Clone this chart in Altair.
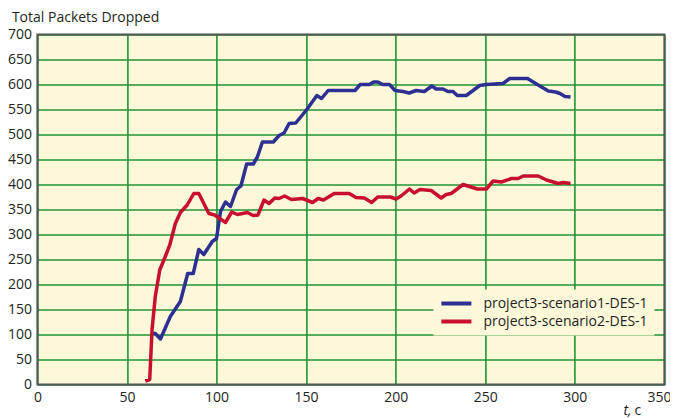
import altair as alt
import pandas as pd

# Series 1: project3-scenario1-DES-1 (time s, packets)
s1_t = [63.4, 65.8, 68.7, 74.2, 79.8, 83.9, 87.0, 90.1, 92.9, 97.6, 100.0, 102.2, 105.0, 107.8,
        111.2, 113.6, 116.8, 120.5, 122.8, 125.6, 131.7, 134.9, 137.7, 140.5, 144.2, 147.0,
        150.8, 156.0, 158.6, 162.3, 177.3, 180.2, 185.3, 187.7, 190.0, 192.8, 196.5, 199.7,
        204.0, 207.6, 211.4, 216.0, 220.2, 222.6, 226.4, 229.2, 232.0, 234.4, 239.4, 243.2,
        246.9, 250.6, 259.9, 263.7, 273.6, 277.7, 281.4, 285.2, 289.3, 291.7, 294.5, 297.6]
s1_v = [103, 102, 91, 136, 166, 222, 222, 270, 260, 286, 292, 346, 365, 356,
        390, 397, 441, 441, 455, 485, 485, 498, 503, 522, 523, 535,
        552, 578, 572, 588, 588, 600, 600, 605, 605, 600, 600, 588,
        586, 583, 588, 586, 597, 591, 591, 586, 586, 578, 578, 588,
        598, 600, 602, 612, 612, 603, 595, 587, 585, 582, 576, 575]

# Series 2: project3-scenario2-DES-1
s2_t = [60.2, 62.7, 64.0, 65.8, 68.3, 71.4, 73.9, 77.0, 79.8, 83.6, 87.3, 90.1, 95.7, 99.0,
        105.0, 108.5, 111.6, 117.2, 120.5, 123.1, 126.5, 129.3, 132.5, 134.9, 138.0, 141.8,
        148.0, 153.6, 156.7, 159.7, 165.7, 174.1, 177.8, 182.5, 186.6, 190.0, 197.0, 200.2,
        203.0, 207.7, 210.3, 213.5, 219.8, 225.4, 228.2, 231.0, 237.6, 245.6, 250.6, 254.4,
        259.0, 264.6, 268.4, 271.2, 279.6, 284.2, 290.8, 293.6, 297.6]
s2_v = [7, 10, 110, 176, 229, 256, 279, 322, 344, 359, 382, 382, 342, 339,
        324, 345, 340, 344, 338, 339, 369, 362, 373, 372, 377, 370,
        372, 364, 372, 369, 382, 382, 374, 373, 364, 375, 375, 371,
        377, 391, 383, 390, 388, 373, 380, 382, 400, 391, 391, 407,
        405, 412, 412, 417, 417, 409, 402, 404, 402]

series_names = ["project3-scenario1-DES-1", "project3-scenario2-DES-1"]
series_colors = ["#2d3092", "#c8102e"]
x_ticks = [0, 50, 100, 150, 200, 250, 300, 350]
y_ticks = [0, 50, 100, 150, 200, 250, 300, 350, 400, 450, 500, 550, 600, 650, 700]
y_title = "Total Packets Dropped"

df = pd.concat([
    pd.DataFrame({"t": s1_t, "v": s1_v, "s": series_names[0]}),
    pd.DataFrame({"t": s2_t, "v": s2_v, "s": series_names[1]}),
])

FONT = "Open Sans"
W, H = 627, 350

x_scale = alt.Scale(domain=[0, 350], nice=False, zero=False)
y_scale = alt.Scale(domain=[0, 700], nice=False)

x_axis = alt.Axis(values=x_ticks, title=None, labelPadding=6, labelOverlap=False,
                  tickCount=30, labelFlush=False,
                  labelOffset=alt.ExprRef("datum.value >= 350 ? -5.5 : 0"))
y_axis = alt.Axis(values=y_ticks, title=y_title, titleAngle=0,
                  titleAlign="left", titleBaseline="alphabetic",
                  titleX=-26, titleY=-13, labelPadding=6,
                  labelOverlap=False, tickCount=30, labelFlush=False)

lines = alt.Chart(df).mark_line(strokeWidth=3.5, strokeJoin="round").encode(
    x=alt.X("t:Q", scale=x_scale, axis=x_axis),
    y=alt.Y("v:Q", scale=y_scale, axis=y_axis),
    color=alt.Color("s:N",
                    scale=alt.Scale(domain=series_names, range=series_colors),
                    legend=alt.Legend(title=None, orient="none",
                                      legendX=396, legendY=255,
                                      symbolType="stroke", symbolSize=900,
                                      symbolStrokeWidth=4, labelOffset=10,
                                      clipHeight=16, rowPadding=2, padding=6,
                                      labelLimit=400,
                                      fillColor="#fdf8da")),
)

frame = alt.Chart(pd.DataFrame({"a": [0]})).mark_rect(
    fill=None, stroke="#555555", strokeWidth=2
).encode(
    x=alt.X(datum=0, scale=x_scale, axis=x_axis), x2=alt.datum(350),
    y=alt.Y(datum=0, scale=y_scale, axis=y_axis), y2=alt.datum(700),
)

t_label = alt.Chart(pd.DataFrame({"a": [0]})).mark_text(
    text="t,", font=FONT, fontSize=14, fontStyle="italic", align="left",
    baseline="alphabetic", color="#231f20"
).encode(x=alt.value(586), y=alt.value(380.5))

c_label = alt.Chart(pd.DataFrame({"a": [0]})).mark_text(
    text="c", font=FONT, fontSize=14, align="left",
    baseline="alphabetic", color="#231f20"
).encode(x=alt.value(597), y=alt.value(380.5))

chart = alt.layer(lines, frame, t_label, c_label).properties(
    width=W, height=H,
    autosize=alt.AutoSizeParams(type="none"),
    padding={"left": 29.4, "top": 26.5, "right": 5.6, "bottom": 33},
).configure_view(
    fill="#fdf8da", stroke=None
).configure_axis(
    grid=True, gridColor="#1f9433", gridWidth=1.6, gridOpacity=1,
    domain=False, ticks=False, tickSize=0,
    labelFont=FONT, labelFontSize=14, labelColor="#231f20",
    titleFont=FONT, titleFontSize=14, titleFontWeight="normal", titleColor="#231f20",
).configure_legend(
    labelFont=FONT, labelFontSize=14, labelColor="#231f20",
)

chart.save("out.html", embed_options={"renderer": "svg", "actions": False})
